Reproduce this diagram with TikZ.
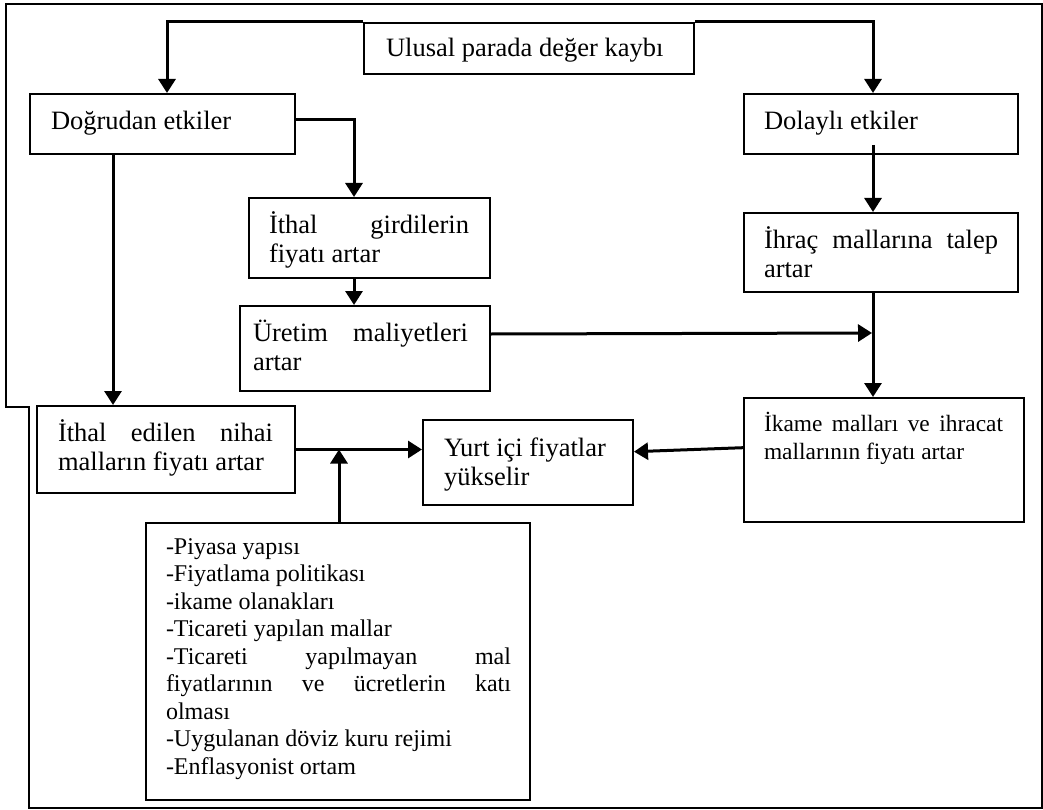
\documentclass[tikz,border=0pt]{standalone}
\usepackage{fontspec}
\setmainfont{Liberation Serif}
\usetikzlibrary{arrows.meta}
% #1 width, #2 height, #3 left pad, #4 right pad, #5 first baseline from top, #6 text
\newcommand\bxt[6]{\parbox[c][#2][t]{#1}{\parskip=0pt\hyphenpenalty=10000\exhyphenpenalty=10000%
\vspace*{\dimexpr#5-25pt\relax}\leftskip=#3\relax\rightskip=#4\relax\noindent\rule{0pt}{25pt}#6\par}}
\begin{document}
\begin{tikzpicture}[x=1pt,y=-1pt,
  box/.style={draw,line width=2pt,inner sep=0pt,anchor=north west,font=\fontsize{26.5}{29}\selectfont},
  arr/.style={line width=3pt,-{Triangle[width=17pt,length=14pt]}}]
\useasboundingbox (0,0) rectangle (1043,810);
\draw[line width=2pt] (6,4) -- (1042,4) -- (1042,808) -- (29,808) -- (29,407) -- (6,407) -- cycle;

\node[box] (ulusal) at (363,22) {\bxt{330pt}{51pt}{22pt}{0pt}{34pt}{Ulusal parada değer kaybı}};
\node[box] (dog) at (29,93) {\bxt{265pt}{60pt}{21pt}{0pt}{36pt}{Doğrudan etkiler}};
\node[box] (dol) at (743,93) {\bxt{274pt}{60pt}{20pt}{0pt}{36pt}{Dolaylı etkiler}};
\node[box] (girdi) at (248,197) {\bxt{241pt}{80pt}{20pt}{21pt}{35pt}{İthal girdilerin\linebreak fiyatı artar}};
\node[box] (uretim) at (239,305) {\bxt{250pt}{85pt}{13pt}{22pt}{35pt}{Üretim maliyetleri\linebreak artar}};
\node[box] (ihrac) at (743,212) {\bxt{274pt}{79pt}{20pt}{20pt}{35pt}{İhraç mallarına talep\linebreak artar}};
\node[box,font=\fontsize{23.4}{28}\selectfont] (ikame) at (743,397) {\bxt{280pt}{124pt}{20pt}{21pt}{33pt}{İkame malları ve ihracat\linebreak mallarının fiyatı artar}};
\node[box] (yurt) at (422,419) {\bxt{210pt}{85pt}{21pt}{0pt}{36pt}{Yurt içi fiyatlar\\yükselir}};
\node[box] (nihai) at (36,405) {\bxt{258pt}{87pt}{21pt}{22pt}{35pt}{İthal edilen nihai\linebreak malların fiyatı artar}};
\node[box,font=\fontsize{24}{27.5}\selectfont] (list) at (145,522) {\bxt{384pt}{277pt}{20pt}{19pt}{31pt}{-Piyasa yapısı\par
-Fiyatlama politikası\par
-ikame olanakları\par
-Ticareti yapılan mallar\par
-Ticareti yapılmayan mal\linebreak fiyatlarının ve ücretlerin katı\linebreak olması\par
-Uygulanan döviz kuru rejimi\par
-Enflasyonist ortam}};

\coordinate (j1) at (872,333);
\draw[arr] (ulusal.north west) -| ([xshift=4.5pt]dog.north);
\draw[arr] (ulusal.north east) -| ([xshift=-8pt]dol.north);
\draw[arr] ([yshift=4pt]dog.east) -| ([xshift=-15.5pt]girdi.north);
\draw[arr] ([xshift=-49.5pt]dog.south) -- ([xshift=-49.5pt]dog.south |- nihai.north);
\draw[arr] ([xshift=-8pt,yshift=10pt]dol.south) -- ([xshift=-8pt]dol.south |- ihrac.north);
\draw[arr] ([xshift=-15.5pt]girdi.south) -- ([xshift=-15.5pt]girdi.south |- uretim.north);
\draw[arr] ([yshift=14.5pt]uretim.east) -- (j1);
\draw[arr] ([xshift=-8pt]ihrac.south) -- ([xshift=-8pt]ihrac.south |- ikame.north);
\draw[arr] ([yshift=12.3pt]ikame.west) -- ([yshift=10.8pt]yurt.east);
\draw[arr] (nihai.east) -- (nihai.east -| yurt.west);
\draw[arr] ([xshift=1pt]list.north) -- ([xshift=1pt]list.north |- nihai.east);
\end{tikzpicture}
\end{document}
